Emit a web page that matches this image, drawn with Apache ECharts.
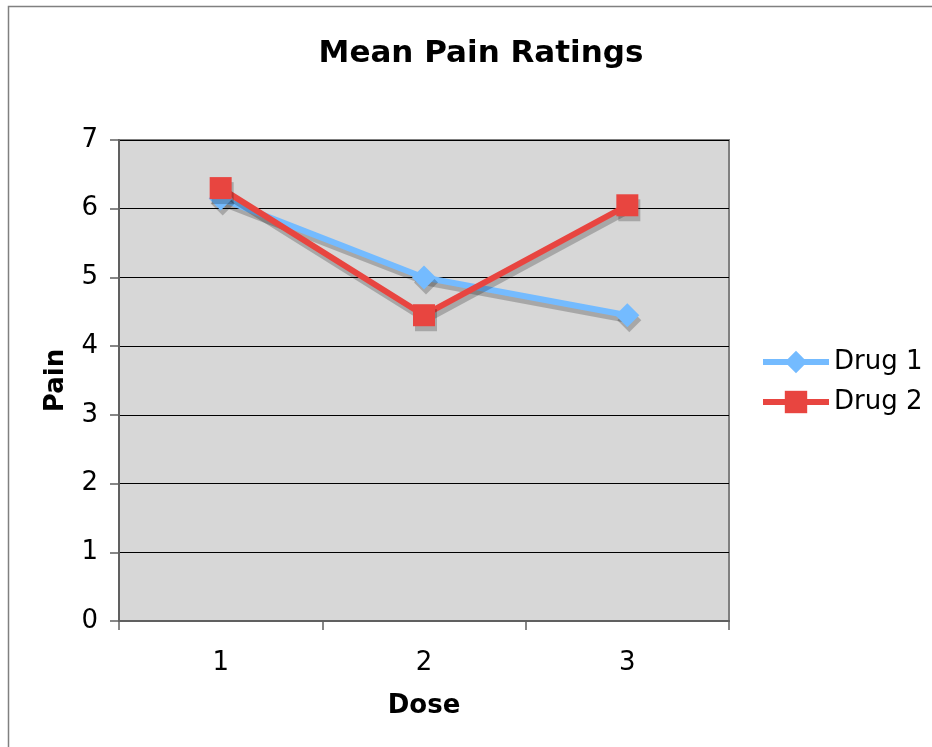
<!DOCTYPE html>
<html>
<head>
<meta charset="utf-8">
<script src="https://cdn.jsdelivr.net/npm/echarts@6/dist/echarts.min.js"></script>
<style>
  html, body { margin: 0; padding: 0; background: #fff; }
  #chart { width: 932px; height: 747px; }
</style>
</head>
<body>
<div id="chart"></div>
<script>
//  数据
const doses = ['1', '2', '3'];
const drug1 = [6.15, 5.0, 4.45];
const drug2 = [6.3, 4.45, 6.05];

const FONT = 'DejaVu Sans';

//  阴影，线和标记都一样
const shadow = {
    shadowColor: 'rgba(0,0,0,0.22)',
    shadowOffsetX: 2,
    shadowOffsetY: 5,
    shadowBlur: 0
};

const myChart = echarts.init(document.getElementById('chart'));
myChart.setOption({
    backgroundColor: '#fff',
    animation: false,
    textStyle: {fontFamily: FONT},
    title: {
        text: 'Mean Pain Ratings',
        left: 476,
        top: 33,
        textAlign: 'center',
        textStyle: {fontFamily: FONT, fontSize: 31, fontWeight: 'bold', color: '#000'}
    },
    //  外框
    graphic: [{
        type: 'rect',
        shape: {x: 8.5, y: 6.5, width: 1000, height: 1000},
        style: {fill: 'none', stroke: '#808080', lineWidth: 1.5},
        z: -1
    }],
    legend: {
        orient: 'vertical',
        left: 755,
        top: 344,
        itemWidth: 66,
        itemHeight: 28,
        itemGap: 14,
        lineStyle: {width: 6},
        textStyle: {fontFamily: FONT, fontSize: 26, color: '#000'},
        data: ['Drug 1', 'Drug 2']
    },
    grid: {
        left: 119,
        top: 140,
        width: 610,
        height: 481,
        show: true,
        backgroundColor: '#d7d7d7',
        borderColor: '#808080',
        borderWidth: 2
    },
    xAxis: {
        type: 'category',
        data: doses,
        boundaryGap: true,
        name: 'Dose',
        nameLocation: 'middle',
        nameGap: 72,
        nameTextStyle: {fontFamily: FONT, fontSize: 26, fontWeight: 'bold', color: '#000'},
        axisLine: {lineStyle: {color: '#606060', width: 2}},
        axisTick: {show: true, length: 9, lineStyle: {color: '#606060', width: 1.5}},
        axisLabel: {fontFamily: FONT, fontSize: 26, color: '#000', margin: 29}
    },
    yAxis: {
        type: 'value',
        min: 0,
        max: 7,
        interval: 1,
        name: 'Pain',
        nameLocation: 'middle',
        nameGap: 50,
        nameTextStyle: {fontFamily: FONT, fontSize: 26, fontWeight: 'bold', color: '#000'},
        axisLine: {show: true, lineStyle: {color: '#606060', width: 2}},
        axisTick: {show: true, length: 9, lineStyle: {color: '#606060', width: 1.5}},
        axisLabel: {fontFamily: FONT, fontSize: 26, color: '#000', margin: 21},
        splitLine: {lineStyle: {color: '#000', width: 1}}
    },
    series: [{
        name: 'Drug 1',
        type: 'line',
        data: drug1,
        symbol: 'diamond',
        symbolSize: 24,
        color: '#74bbff',
        lineStyle: Object.assign({width: 6, color: '#74bbff'}, shadow),
        itemStyle: Object.assign({color: '#74bbff'}, shadow)
    }, {
        name: 'Drug 2',
        type: 'line',
        data: drug2,
        symbol: 'rect',
        symbolSize: 22,
        color: '#e84540',
        lineStyle: Object.assign({width: 6, color: '#e84540'}, shadow),
        itemStyle: Object.assign({color: '#e84540'}, shadow)
    }]
});
</script>
</body>
</html>
